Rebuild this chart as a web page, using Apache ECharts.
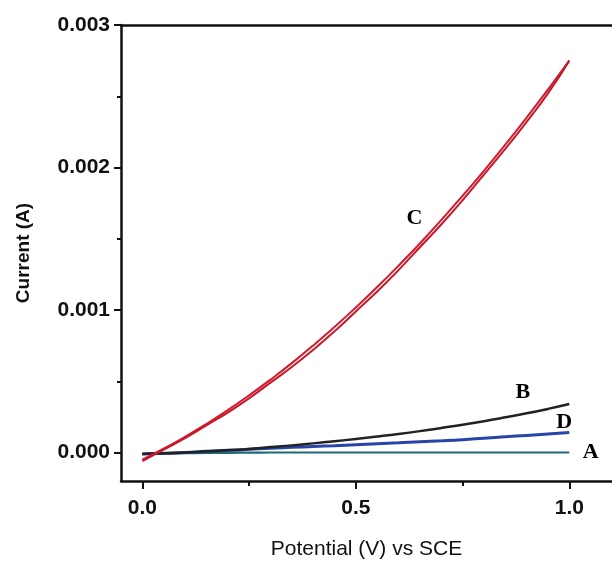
<!DOCTYPE html>
<html>
<head>
<meta charset="utf-8">
<script src="https://cdn.jsdelivr.net/npm/echarts@6/dist/echarts.min.js"></script>
<style>
  html, body { margin: 0; padding: 0; background: #fff; }
  #chart { width: 612px; height: 565px; }
</style>
</head>
<body>
<div id="chart"></div>
<script>
// potential (V vs SCE) and current (A)
const potential = [0, 0.05, 0.1, 0.15, 0.2, 0.25, 0.3, 0.35, 0.4, 0.45, 0.5,
  0.55, 0.6, 0.65, 0.7, 0.75, 0.8, 0.85, 0.9, 0.95, 1.0]

const curveA = [-0.00001, -0.000008, -0.000005, -0.000003, -0.000002, -0.000001, 0, 0, 0, 0, 0,
  0, 0, 0, 0, 0, 0, 0, 0, 0, 0]
const curveB = [-0.00001, -0.000005, 0, 0.000008, 0.000015, 0.000025, 0.000038, 0.00005, 0.000064, 0.000079, 0.000095,
  0.000112, 0.00013, 0.00015, 0.000172, 0.000195, 0.00022, 0.000247, 0.000275, 0.000306, 0.00034]
const curveD = [-0.00001, -0.000006, 0, 0.000008, 0.000015, 0.000022, 0.00003, 0.000036, 0.000042, 0.000048, 0.000055,
  0.000062, 0.000068, 0.000075, 0.000082, 0.00009, 0.0001, 0.00011, 0.00012, 0.00013, 0.00014]
const curveCfwd = [-0.00005, 0.000027, 0.00011, 0.0002, 0.000297, 0.000401, 0.000511, 0.000627, 0.000751, 0.000881, 0.001018,
  0.001161, 0.001311, 0.001467, 0.001631, 0.001801, 0.001977, 0.00216, 0.00235, 0.002547, 0.00275]
const curveCrev = [-0.00006, 0.00002, 0.0001, 0.00019, 0.00028, 0.00038, 0.00049, 0.0006, 0.00072, 0.00085, 0.00099,
  0.00113, 0.00128, 0.00144, 0.0016, 0.00177, 0.00195, 0.00213, 0.00232, 0.00252, 0.00275]

const xLabels = [0, 0.5, 1.0]
const xMinor = [0.25, 0.75]
const yLabels = [0, 0.001, 0.002, 0.003]
const yMinor = [0.0005, 0.0015, 0.0025]

// curve labels
const labelText = ['C', 'B', 'D', 'A']
const labelX = [0.637, 0.891, 0.988, 1.05]
const labelY = [0.00164, 0.00042, 0.00021, 0.0]

const pairs = ys => potential.map((x, i) => [x, ys[i]])

const chart = echarts.init(document.getElementById('chart'))

const axisFont = { fontFamily: 'Liberation Sans, Arial, sans-serif', fontWeight: 'bold', color: '#111' }
const line = { onZero: false, lineStyle: { color: '#111', width: 2.5 } }

chart.setOption({
  backgroundColor: '#fff',
  animation: false,
  grid: { left: 121, top: 25, width: 497, height: 456 },
  xAxis: [{
    type: 'value', min: -0.05, max: 1.1, position: 'bottom',
    name: 'Potential (V) vs SCE', nameLocation: 'middle', nameGap: 58,
    nameTextStyle: { fontFamily: 'Liberation Sans, Arial, sans-serif', fontSize: 21, color: '#111' },
    axisLine: line,
    axisTick: { customValues: xLabels, length: 8, lineStyle: { color: '#111', width: 2 } },
    axisLabel: { customValues: xLabels, margin: 17, fontSize: 21, ...axisFont, formatter: v => v.toFixed(1) },
    splitLine: { show: false }
  }, {
    type: 'value', min: -0.05, max: 1.1, position: 'bottom',
    axisLine: { show: false, onZero: false },
    axisTick: { customValues: xMinor, length: 5, lineStyle: { color: '#111', width: 2 } },
    axisLabel: { show: false },
    splitLine: { show: false }
  }, {
    type: 'value', min: -0.05, max: 1.1, position: 'top',
    axisLine: line,
    axisTick: { show: false }, axisLabel: { show: false }, splitLine: { show: false }
  }],
  yAxis: [{
    type: 'value', min: -0.0002, max: 0.003, position: 'left',
    name: 'Current (A)', nameLocation: 'middle', nameGap: 88,
    nameTextStyle: { fontSize: 19, ...axisFont },
    axisLine: line,
    axisTick: { customValues: yLabels, length: 7, lineStyle: { color: '#111', width: 2 } },
    axisLabel: { customValues: yLabels, margin: 11, fontSize: 21, ...axisFont, formatter: v => v.toFixed(3) },
    splitLine: { show: false }
  }, {
    type: 'value', min: -0.0002, max: 0.003, position: 'left',
    axisLine: { show: false, onZero: false },
    axisTick: { customValues: yMinor, length: 4, lineStyle: { color: '#111', width: 2 } },
    axisLabel: { show: false },
    splitLine: { show: false }
  }],
  series: [
    { type: 'line', data: pairs(curveA), showSymbol: false, smooth: true, lineStyle: { color: '#1f6878', width: 2.2 } },
    { type: 'line', data: pairs(curveD), showSymbol: false, smooth: true, lineStyle: { color: '#2645a6', width: 3 } },
    { type: 'line', data: pairs(curveB), showSymbol: false, smooth: true, lineStyle: { color: '#222', width: 2.5 } },
    { type: 'line', data: pairs(curveCfwd), showSymbol: false, smooth: true, lineStyle: { color: '#d21a2e', width: 2 } },
    { type: 'line', data: pairs(curveCrev), showSymbol: false, smooth: true, lineStyle: { color: '#c8182a', width: 2 } },
    {
      type: 'scatter', symbolSize: 0, z: 10,
      itemStyle: { opacity: 1 },
      data: labelText.map((t, i) => [labelX[i], labelY[i], t]),
      label: {
        show: true, position: 'inside', formatter: p => p.value[2],
        fontFamily: 'Liberation Serif, Times New Roman, serif', fontWeight: 'bold', fontSize: 22, color: '#000'
      }
    }
  ]
})
</script>
</body>
</html>
